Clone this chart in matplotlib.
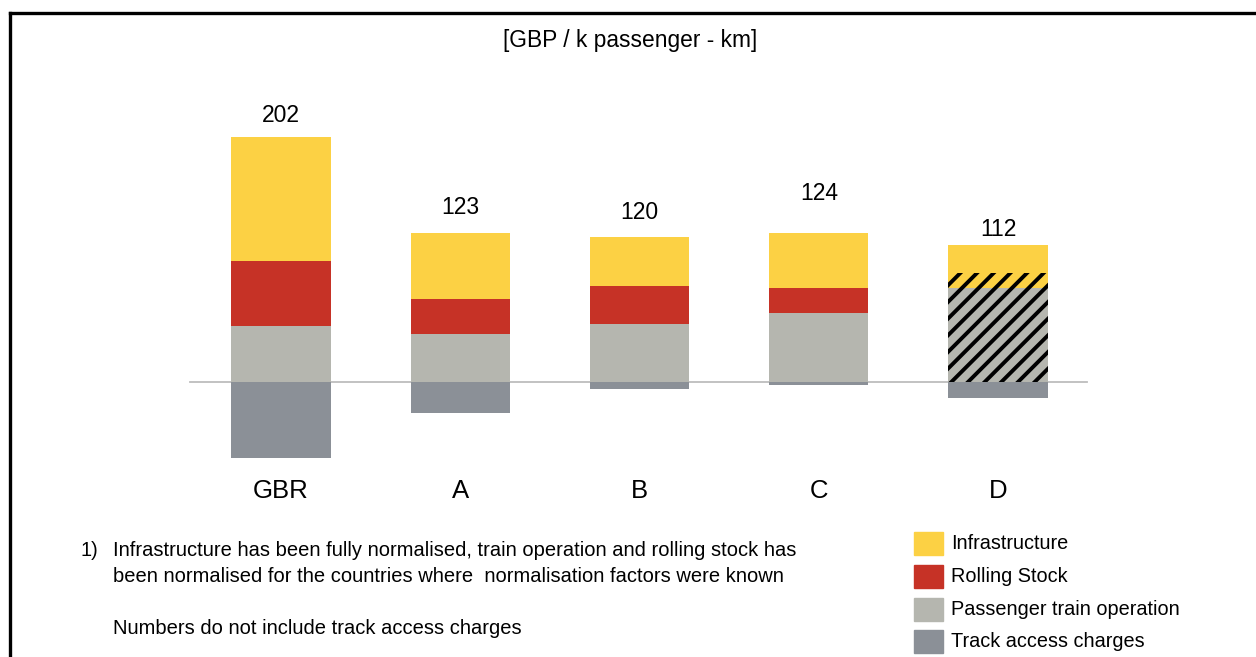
import matplotlib
matplotlib.use('Agg')
import matplotlib.pyplot as plt
from matplotlib.lines import Line2D
from matplotlib.patches import Rectangle

plt.rcParams['font.family'] = ['Liberation Sans', 'DejaVu Sans']
plt.rcParams['hatch.linewidth'] = 2.8

# data (GBP / k passenger-km)
countries = ['GBR', 'A', 'B', 'C', 'D']
totals = [202, 123, 120, 124, 112]
infrastructure = [102.3, 54.3, 40.0, 45.5, 35.6]
rolling_stock = [53.8, 28.9, 31.7, 20.7, 0.0]
passenger_op = [45.9, 39.3, 47.6, 56.6, 77.3]
track_access = [63.5, 25.8, 6.5, 2.9, 13.6]
# D: rolling stock and operation not split -> hatched block
hatched = [0, 0, 0, 0, 89.7]

c_infra = '#FCD144'
c_roll = '#C63226'
c_op = '#B5B6AF'
c_track = '#8B9097'

W, H = 1256, 657
fig = plt.figure(figsize=(W / 100, H / 100), dpi=100)
ax = fig.add_axes([0, 0, 1, 1])

# map data coords onto the picture: bar centres 179.25 px apart, first at x=281
# zero line at row 381.5, 1.209 px per unit
px_x, x0 = 179.25, 281
px_y, y0 = 1.209, 381.5
ax.set_xlim(-x0 / px_x, (W - x0) / px_x)
ax.set_ylim(-(H - y0) / px_y, y0 / px_y)
ax.axis('off')

x = list(range(len(countries)))
w = 0.555

ax.plot([-91 / px_x, 806 / px_x], [0, 0], color='#BDBDBD', lw=1.3, zorder=1)

ax.bar(x, passenger_op, w, color=c_op, zorder=2)
b1 = [p for p in passenger_op]
ax.bar(x, rolling_stock, w, bottom=b1, color=c_roll, zorder=2)
b2 = [p + r for p, r in zip(passenger_op, rolling_stock)]
ax.bar(x, infrastructure, w, bottom=b2, color=c_infra, zorder=2)
ax.bar(x, [-t for t in track_access], w, color=c_track, zorder=2)
ax.bar(x, hatched, w, facecolor='none', edgecolor='black', linewidth=0,
       hatch='//', zorder=3)

label_pad = [22, 26, 25, 40, 16]  # px above bar top
for i, t in enumerate(totals):
    top = passenger_op[i] + rolling_stock[i] + infrastructure[i]
    ax.text(x[i], top + label_pad[i] / px_y, str(t), ha='center', va='center',
            fontsize=16.5)
    ax.text(x[i], -109 / px_y, countries[i], ha='center', va='center',
            fontsize=18.5)


def ftext(px, py, s, **kw):
    fig.text(px / W, 1 - py / H, s, **kw)


ftext(630, 40, '[GBP / k passenger - km]', ha='center', va='center', fontsize=16.4)

ftext(80, 550, '1)', va='center', fontsize=14.5)
ftext(113, 550, 'Infrastructure has been fully normalised, train operation and rolling stock has',
      va='center', fontsize=14.5)
ftext(113, 576, 'been normalised for the countries where  normalisation factors were known',
      va='center', fontsize=14.5)
ftext(113, 628, 'Numbers do not include track access charges', va='center', fontsize=14.5)

legend_items = ['Infrastructure', 'Rolling Stock', 'Passenger train operation',
                'Track access charges']
legend_cols = [c_infra, c_roll, c_op, c_track]
for k, (lab, col) in enumerate(zip(legend_items, legend_cols)):
    cy = 543.5 + k * 32.8
    fig.patches.append(Rectangle((914 / W, 1 - (cy + 11.5) / H), 29 / W, 23 / H,
                                 transform=fig.transFigure, color=col))
    ftext(951, cy, lab, va='center', fontsize=14.3)

# frame (left and top only)
fig.lines.append(Line2D([10 / W, 10 / W], [0, 1 - 12.5 / H], transform=fig.transFigure,
                        color='black', lw=2.4))
fig.lines.append(Line2D([10 / W, 1], [1 - 12.5 / H, 1 - 12.5 / H], transform=fig.transFigure,
                        color='black', lw=2.4))

fig.savefig('out.png', dpi=100)
